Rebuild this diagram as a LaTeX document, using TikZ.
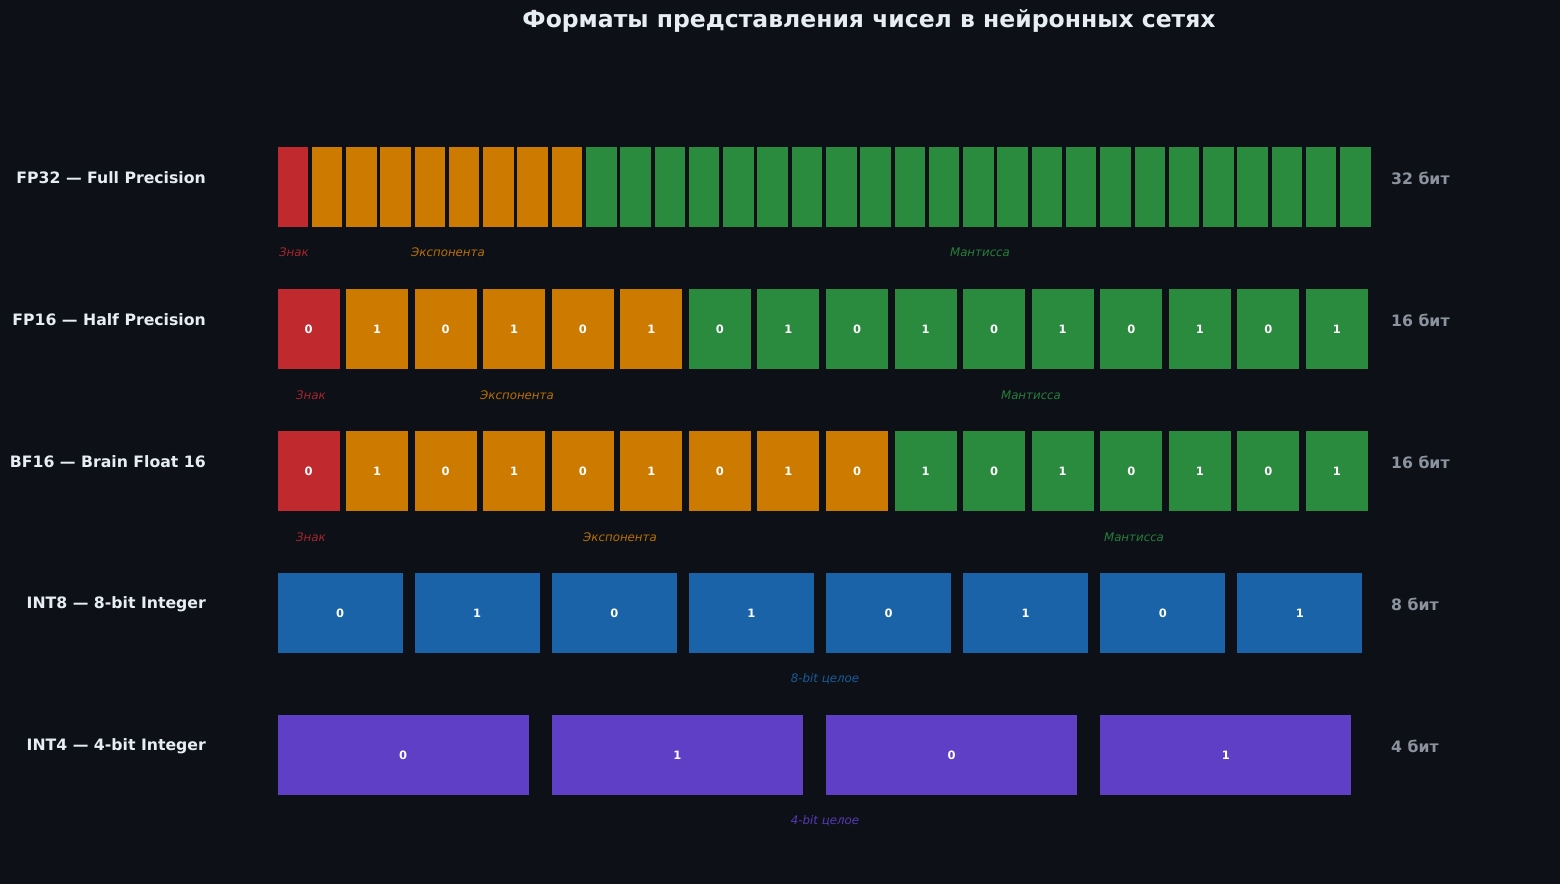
\documentclass[tikz,border=0pt]{standalone}
\usepackage{fontspec}
\setmainfont{DejaVu Sans}
\usetikzlibrary{positioning}
\definecolor{bgdark}{HTML}{0D1117}
\definecolor{signred}{HTML}{C0292E}
\definecolor{exporange}{HTML}{CC7A00}
\definecolor{mantgreen}{HTML}{2A8A3E}
\definecolor{intblue}{HTML}{1A63A8}
\definecolor{intpurple}{HTML}{5E3FC5}
\definecolor{titlegray}{HTML}{E6EDF3}
\definecolor{bitsgray}{HTML}{8B949E}

\begin{document}
\begin{tikzpicture}[
                x=1pt, y=-1pt,
                bitbox/.style={rectangle,draw=bgdark,line width=1pt,minimum height=81pt,inner sep=0pt,
                    text=white,font=\fontsize{11.5}{13}\selectfont\bfseries},
                rowlabel/.style={anchor=east,inner sep=0pt,text=titlegray,font=\fontsize{15.7}{18}\selectfont\bfseries},
                sizelabel/.style={anchor=west,inner sep=0pt,text=bitsgray,font=\fontsize{15.7}{18}\selectfont\bfseries},
                fieldlabel/.style={font=\fontsize{11.8}{14}\selectfont\itshape}
            ]
                \fill[bgdark] (0,0) rectangle (1560,884);
                \useasboundingbox (0,0) rectangle (1560,884);
                \node[text=titlegray,font=\fontsize{23.5}{28}\selectfont\bfseries] (title) at (869,21) {Форматы представления чисел в нейронных сетях};

                % FP32
                \node[rowlabel] (lblfp32) at (206,178) {FP32 — Full Precision};
                \foreach \i in {0,...,31}{
                    \ifnum\i=0 \def\bitcol{signred}\else\ifnum\i<9 \def\bitcol{exporange}\else\def\bitcol{mantgreen}\fi\fi
                    \node[bitbox,fill=\bitcol,minimum width=31.5pt] (fp32-\i) at ({277+34.28*(\i+0.46)},187) {};
                }
                \node[sizelabel] (bitsfp32) at (1391,178) {32 бит};
                \node[fieldlabel,text=signred!85!bgdark] (signfp32) at (294,252) {Знак};
                \node[fieldlabel,text=exporange!90!bgdark] (expfp32) at (448,252) {Экспонента};
                \node[fieldlabel,text=mantgreen!90!bgdark] (mantfp32) at (980,252) {Мантисса};

                % FP16
                \node[rowlabel] (lblfp16) at (206,320) {FP16 — Half Precision};
                \foreach \i in {0,...,15}{
                    \ifnum\i=0 \def\bitcol{signred}\else\ifnum\i<6 \def\bitcol{exporange}\else\def\bitcol{mantgreen}\fi\fi
                    \pgfmathtruncatemacro{\bitval}{mod(\i,2)}
                    \node[bitbox,fill=\bitcol,minimum width=63pt] (fp16-\i) at ({277+68.56*(\i+0.46)},329) {\bitval};
                }
                \node[sizelabel] (bitsfp16) at (1391,320) {16 бит};
                \node[fieldlabel,text=signred!85!bgdark] (signfp16) at (311,395) {Знак};
                \node[fieldlabel,text=exporange!90!bgdark] (expfp16) at (517,395) {Экспонента};
                \node[fieldlabel,text=mantgreen!90!bgdark] (mantfp16) at (1031,395) {Мантисса};

                % BF16
                \node[rowlabel] (lblbf16) at (206,462) {BF16 — Brain Float 16};
                \foreach \i in {0,...,15}{
                    \ifnum\i=0 \def\bitcol{signred}\else\ifnum\i<9 \def\bitcol{exporange}\else\def\bitcol{mantgreen}\fi\fi
                    \pgfmathtruncatemacro{\bitval}{mod(\i,2)}
                    \node[bitbox,fill=\bitcol,minimum width=63pt] (bf16-\i) at ({277+68.56*(\i+0.46)},471) {\bitval};
                }
                \node[sizelabel] (bitsbf16) at (1391,462) {16 бит};
                \node[fieldlabel,text=signred!85!bgdark] (signbf16) at (311,537) {Знак};
                \node[fieldlabel,text=exporange!90!bgdark] (expbf16) at (620,537) {Экспонента};
                \node[fieldlabel,text=mantgreen!90!bgdark] (mantbf16) at (1134,537) {Мантисса};

                % INT8
                \node[rowlabel] (lblint8) at (206,604) {INT8 — 8-bit Integer};
                \foreach \i in {0,...,7}{
                    \pgfmathtruncatemacro{\bitval}{mod(\i,2)}
                    \node[bitbox,fill=intblue,minimum width=126pt] (int8-\i) at ({277+137.12*(\i+0.46)},613) {\bitval};
                }
                \node[sizelabel] (bitsint8) at (1391,604) {8 бит};
                \node[fieldlabel,text=intblue!90!bgdark] (valint8) at (825,679) {8-bit целое};

                % INT4
                \node[rowlabel] (lblint4) at (206,746) {INT4 — 4-bit Integer};
                \foreach \i in {0,...,3}{
                    \pgfmathtruncatemacro{\bitval}{mod(\i,2)}
                    \node[bitbox,fill=intpurple,minimum width=252pt] (int4-\i) at ({277+274.25*(\i+0.46)},755) {\bitval};
                }
                \node[sizelabel] (bitsint4) at (1391,746) {4 бит};
                \node[fieldlabel,text=intpurple!90!bgdark] (valint4) at (825,821) {4-bit целое};
            \end{tikzpicture}
\end{document}
